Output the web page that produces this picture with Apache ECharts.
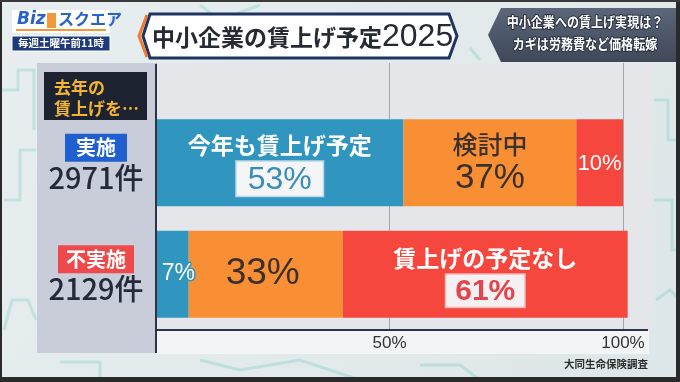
<!DOCTYPE html>
<html>
<head>
<meta charset="utf-8">
<script src="https://cdn.jsdelivr.net/npm/echarts@6/dist/echarts.min.js"></script>
<style>
  html, body { margin: 0; padding: 0; background: #e3eaec; }
  #chart { width: 680px; height: 382px; }
</style>
</head>
<body>
<div id="chart"></div>
<script>
// Survey rows: companies that did / did not raise wages last year
const categories = ['実施', '不実施'];
const caseCounts = ['2971件', '2129件'];

// Share of companies (%) by plan for this year
const seriesNames = ['今年も賃上げ予定', '検討中', '賃上げの予定なし'];
const planned = [53, 7];
const considering = [37, 33];
const noPlan = [10, 61];

// Value axis
const axisMin = 0;
const axisMax = 100;
const axisStep = 50;
const tickSuffix = '%';

const FONT = '"Noto Sans CJK JP", "Noto Sans", sans-serif';
const NUM = '"Liberation Sans", Arial, sans-serif';
const BLUE = '#3096bf';
const ORANGE = '#f98f35';
const RED = '#f6473f';

const chart = echarts.init(document.getElementById('chart'), null, { renderer: 'canvas' });

// Per-row label styles for each segment
const labelStyles = {
  planned: [
    {
      show: true, position: 'inside', offset: [0, -1],
      formatter: p => `{t|${p.seriesName}}\n{p|${p.value}%}`,
      rich: {
        t: { fontSize: 23, fontWeight: 'bold', color: '#ffffff', lineHeight: 34, fontFamily: FONT },
        p: { fontSize: 32, color: '#3b8db6', backgroundColor: '#f3f5f7', borderColor: '#bcd6e4',
             borderWidth: 1.5, padding: [2, 11, 0, 11], lineHeight: 33, fontFamily: NUM }
      }
    },
    {
      show: true, position: 'inside', offset: [6, -1],
      formatter: p => `${p.value}%`, fontSize: 23, color: '#ffffff', fontFamily: NUM,
      textBorderColor: BLUE, textBorderWidth: 3
    }
  ],
  considering: [
    {
      show: true, position: 'inside',
      formatter: p => `{t|${p.seriesName}}\n{p|${p.value}%}`,
      rich: {
        t: { fontSize: 25, color: '#3a302c', lineHeight: 32, fontFamily: FONT, fontWeight: 500 },
        p: { fontSize: 35, color: '#3a302c', lineHeight: 36, fontFamily: NUM }
      }
    },
    {
      show: true, position: 'inside', offset: [-3, 0],
      formatter: p => `${p.value}%`, fontSize: 37, color: '#3a302c', fontFamily: NUM
    }
  ],
  noPlan: [
    {
      show: true, position: 'inside', offset: [0, 1],
      formatter: p => `${p.value}%`, fontSize: 22, color: '#ffffff', fontFamily: NUM
    },
    {
      show: true, position: 'inside',
      formatter: p => `{t|${p.seriesName}}\n{p|${p.value}%}`,
      rich: {
        t: { fontSize: 23, fontWeight: 'bold', color: '#ffffff', lineHeight: 33, fontFamily: FONT },
        p: { fontSize: 30, color: '#e2454b', backgroundColor: '#f5f1f2', borderColor: '#f2b5b8',
             borderWidth: 1.5, padding: [2, 9, 0, 9], lineHeight: 31, fontFamily: NUM, fontWeight: 'bold' }
      }
    }
  ]
};

function buildData(values, styles) {
  return values.map((v, i) => ({ value: v, label: styles[i] }));
}

function barSeries(name, values, color, styles) {
  return {
    name: name,
    type: 'bar',
    stack: 'share',
    barWidth: 87,
    clip: false,
    xAxisIndex: 0,
    yAxisIndex: 0,
    itemStyle: { color: color },
    data: buildData(values, styles),
    z: 3
  };
}

// Decorative building sketches in the backdrop
const sketchColor = 'rgba(120, 205, 198, 0.35)';
function sketch(points) {
  return { type: 'polyline', z: -9, shape: { points: points },
           style: { stroke: sketchColor, lineWidth: 3, fill: null } };
}

const graphics = [
  // backdrop
  { type: 'rect', z: -10, shape: { x: 0, y: 0, width: 680, height: 382 },
    style: { fill: new echarts.graphic.LinearGradient(0, 0, 1, 1, [
      { offset: 0, color: '#e8eef0' }, { offset: 1, color: '#dde6e8' }]) } },
  sketch([[0, 90], [18, 90], [18, 70], [34, 70], [34, 130]]),
  sketch([[4, 200], [20, 200], [20, 150], [36, 150]]),
  sketch([[4, 330], [12, 300], [28, 300], [36, 320]]),
  sketch([[654, 100], [668, 100], [668, 140], [680, 140]]),
  sketch([[654, 200], [672, 200], [672, 250], [680, 250]]),
  sketch([[656, 300], [670, 290], [680, 300]]),
  sketch([[60, 362], [100, 362], [100, 380]]),
  sketch([[200, 360], [240, 370], [300, 360], [360, 380]]),
  sketch([[420, 365], [460, 365], [480, 380]]),
  sketch([[200, 5], [220, 20], [260, 5]]),
  sketch([[470, 48], [480, 60]]),

  // chart panel
  { type: 'rect', z: -8, shape: { x: 37, y: 63, width: 119, height: 290 }, style: { fill: '#c9cdd9' } },
  { type: 'rect', z: -8, shape: { x: 156, y: 63, width: 496, height: 267 }, style: { fill: '#e4e6ea' } },
  { type: 'rect', z: -8, shape: { x: 156, y: 330, width: 493, height: 24 }, style: { fill: '#f3f4f5' } },
  { type: 'line', z: 5, shape: { x1: 156, y1: 330, x2: 648, y2: 330 }, style: { stroke: '#2c3448', lineWidth: 2 } },
  { type: 'line', z: 5, shape: { x1: 156, y1: 64, x2: 156, y2: 353 }, style: { stroke: '#2c3448', lineWidth: 2 } },

  // row heading box
  { type: 'rect', z: 1, shape: { x: 44, y: 72, width: 103, height: 48 }, style: { fill: '#1d2231' } },
  { type: 'text', z: 2, left: 54, top: 77,
    style: { text: '去年の\n賃上げを…', fill: '#f1b532', font: 'bold 17px ' + FONT, lineHeight: 21 } },

  // title plate
  { type: 'polygon', z: 1, shape: { points: [[150, 14], [449, 14], [457, 36], [449, 58], [150, 58], [143, 36]] },
    style: { fill: '#ffffff', stroke: '#1f3560', lineWidth: 3 } },
  { type: 'polyline', z: 2, shape: { points: [[147, 15], [139, 36], [147, 57]] },
    style: { stroke: '#f07a2c', lineWidth: 3, fill: null } },
  { type: 'text', z: 3, x: 152, y: 37,
    style: {
      text: '{c|中小企業の賃上げ予定}{d|2025}', verticalAlign: 'middle',
      rich: {
        c: { fontSize: 23, fontFamily: FONT, fontWeight: 'bold', fill: '#262a33', color: '#262a33' },
        d: { fontSize: 32, fontFamily: NUM, fill: '#262a33', color: '#262a33' }
      }
    } },

  // headline plate (top right)
  { type: 'polygon', z: 1, shape: { points: [[501, 8], [680, 8], [680, 62], [501, 62], [488, 35]] },
    style: { fill: new echarts.graphic.LinearGradient(0, 0, 0, 1, [
      { offset: 0, color: '#5b6679' }, { offset: 1, color: '#3e4859' }]) } },
  { type: 'text', z: 3, x: 585, y: 22, scaleX: 0.86,
    style: { text: '中小企業への賃上げ実現は？', fill: '#ffffff', font: 'bold 14px ' + FONT,
             align: 'center', verticalAlign: 'middle', stroke: '#2a3140', lineWidth: 2 } },
  { type: 'text', z: 3, x: 585, y: 44, scaleX: 0.86,
    style: { text: 'カギは労務費など価格転嫁', fill: '#ffffff', font: 'bold 14px ' + FONT,
             align: 'center', verticalAlign: 'middle', stroke: '#2a3140', lineWidth: 2 } },

  // programme logo
  { type: 'rect', z: 1, shape: { x: 12, y: 10, width: 98, height: 23, r: 2 }, style: { fill: '#ffffff' } },
  { type: 'text', z: 2, left: 17, top: 11,
    style: { text: 'Biz', fill: '#2a63c7', font: 'italic bold 17px "DejaVu Sans", sans-serif' } },
  { type: 'rect', z: 2, shape: { x: 47, y: 13, width: 9, height: 15 }, style: { fill: '#f29a3a' } },
  { type: 'text', z: 2, left: 58, top: 11,
    style: { text: 'スクエア', fill: '#2a63c7', font: 'bold 16px ' + FONT } },
  { type: 'line', z: 2, shape: { x1: 16, y1: 30, x2: 106, y2: 30 }, style: { stroke: '#f29a3a', lineWidth: 2 } },
  { type: 'rect', z: 1, shape: { x: 12, y: 36, width: 98, height: 15 }, style: { fill: '#1f3a78', stroke: '#ffffff', lineWidth: 1 } },
  { type: 'text', z: 2, x: 61, y: 43.5,
    style: { text: '毎週土曜午前11時', fill: '#ffffff', font: 'bold 10.5px ' + FONT, align: 'center', verticalAlign: 'middle' } },

  // source
  { type: 'text', z: 2, right: 32, top: 359,
    style: { text: '大同生命保険調査', fill: '#2e2e2e', font: 'bold 10.5px ' + FONT } },

  // screen frame
  { type: 'rect', z: 20, shape: { x: 0, y: 0, width: 2, height: 382 }, style: { fill: '#2a2a2a' } },
  { type: 'rect', z: 20, shape: { x: 676, y: 0, width: 4, height: 382 }, style: { fill: '#2a2a2a' } },
  { type: 'rect', z: 20, shape: { x: 0, y: 377, width: 680, height: 5 }, style: { fill: '#2a2a2a' } },
  { type: 'rect', z: 20, shape: { x: 0, y: 0, width: 680, height: 2 }, style: { fill: '#3a3a3a' } }
];

const gridLineStyle = { color: '#a3a7ad', width: 1 };

const option = {
  animation: false,
  textStyle: { fontFamily: FONT },
  grid: [
    { left: 156, right: 57, top: 107, bottom: 52 },
    { left: 156, right: 57, top: 63, height: 44 }
  ],
  xAxis: [
    {
      type: 'value', gridIndex: 0, min: axisMin, max: axisMax, interval: axisStep,
      axisLine: { show: false }, axisTick: { show: false },
      splitLine: { show: true, lineStyle: gridLineStyle },
      axisLabel: {
        showMinLabel: false, margin: 5, fontSize: 17, color: '#333333', fontFamily: NUM,
        formatter: v => v + tickSuffix
      }
    },
    {
      type: 'value', gridIndex: 1, min: axisMin, max: axisMax, interval: axisStep,
      axisLine: { show: false }, axisTick: { show: false }, axisLabel: { show: false },
      splitLine: { show: true, lineStyle: gridLineStyle }
    }
  ],
  yAxis: [
    {
      type: 'category', gridIndex: 0, data: categories, inverse: true,
      axisLine: { show: false }, axisTick: { show: false },
      axisLabel: {
        margin: 60, align: 'center', fontFamily: FONT,
        formatter: (value, idx) => `{${idx === 0 ? 'a' : 'b'}|${value}}\n{n|${caseCounts[idx]}}`,
        rich: {
          a: { backgroundColor: '#1f5fcf', color: '#ffffff', fontSize: 20, fontWeight: 'bold',
               padding: [4, 11], lineHeight: 22, fontFamily: FONT },
          b: { backgroundColor: '#ee4a4b', color: '#ffffff', fontSize: 20, fontWeight: 'bold',
               padding: [4, 8], lineHeight: 22, fontFamily: FONT },
          n: { fontSize: 29, color: '#232a3a', lineHeight: 30, padding: [8, 0, 0, 0], fontFamily: FONT, fontWeight: 500 }
        }
      }
    },
    { type: 'value', gridIndex: 1, show: false, min: 0, max: 1 }
  ],
  series: [
    barSeries(seriesNames[0], planned, BLUE, labelStyles.planned),
    barSeries(seriesNames[1], considering, ORANGE, labelStyles.considering),
    barSeries(seriesNames[2], noPlan, RED, labelStyles.noPlan)
  ],
  graphic: { elements: graphics }
};

chart.setOption(option);
</script>
</body>
</html>
